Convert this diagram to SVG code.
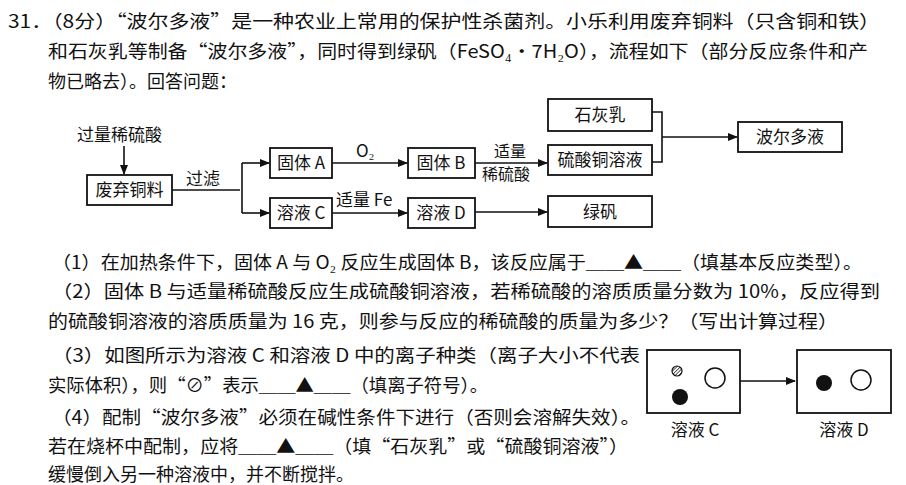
<svg xmlns="http://www.w3.org/2000/svg" width="906" height="485" viewBox="0 0 906 485">
<defs>
<marker id="ar" markerWidth="10" markerHeight="8" refX="9" refY="4" orient="auto" markerUnits="userSpaceOnUse"><path d="M0,0 L10,4 L0,8 z" fill="#111"/></marker>
<pattern id="hatch" width="2.5" height="2.5" patternUnits="userSpaceOnUse" patternTransform="rotate(45)"><rect width="2.5" height="2.5" fill="#fff"/><line x1="0" y1="0" x2="0" y2="2.5" stroke="#111" stroke-width="1.4"/></pattern>
</defs>
<style>
text{font-family:"Noto Sans CJK SC","Liberation Serif",sans-serif;fill:#111}
.q{font-size:18px}
.n{font-size:17px}
.s{font-size:16px}
.b{fill:#fff;stroke:#111;stroke-width:1.8}
.c{fill:none;stroke:#111;stroke-width:1.6}
</style>
<rect width="906" height="485" fill="#fff"/>
<g id="text">
<text class="q" x="8" y="28" textLength="872" lengthAdjust="spacingAndGlyphs">31．（8分）“波尔多液”是一种农业上常用的保护性杀菌剂。小乐利用废弃铜料（只含铜和铁）</text>
<text class="q" x="48" y="58" textLength="820" lengthAdjust="spacingAndGlyphs">和石灰乳等制备“波尔多液”，同时得到绿矾（FeSO₄•7H₂O），流程如下（部分反应条件和产</text>
<text class="q" x="48" y="88">物已略去）。回答问题：</text>
<text class="q" x="52" y="269" textLength="810" lengthAdjust="spacingAndGlyphs">（1）在加热条件下，固体 A 与 O₂ 反应生成固体 B，该反应属于＿＿▲＿＿（填基本反应类型）。</text>
<text class="q" x="52" y="298" textLength="828" lengthAdjust="spacingAndGlyphs">（2）固体 B 与适量稀硫酸反应生成硫酸铜溶液，若稀硫酸的溶质质量分数为 10%，反应得到</text>
<text class="q" x="48" y="328" textLength="790" lengthAdjust="spacingAndGlyphs">的硫酸铜溶液的溶质质量为 16 克，则参与反应的稀硫酸的质量为多少？（写出计算过程）</text>
<text class="q" x="52" y="362" textLength="588" lengthAdjust="spacingAndGlyphs">（3）如图所示为溶液 C 和溶液 D 中的离子种类（离子大小不代表</text>
<text class="q" x="48" y="392" textLength="440" lengthAdjust="spacingAndGlyphs">实际体积），则“⊘”表示＿＿▲＿＿（填离子符号）。</text>
<text class="q" x="52" y="424" textLength="588" lengthAdjust="spacingAndGlyphs">（4）配制“波尔多液”必须在碱性条件下进行（否则会溶解失效）。</text>
<text class="q" x="48" y="453" textLength="580" lengthAdjust="spacingAndGlyphs">若在烧杯中配制，应将＿＿▲＿＿（填“石灰乳”或“硫酸铜溶液”）</text>
<text class="q" x="48" y="481">缓慢倒入另一种溶液中，并不断搅拌。</text>
</g>
<g id="connectors">
<path class="c" d="M124,146 V174" marker-end="url(#ar)"/>
<path class="c" d="M172,190 H240"/>
<path class="c" d="M242,163 V213"/>
<path class="c" d="M242,163 H269" marker-end="url(#ar)"/>
<path class="c" d="M242,213 H269" marker-end="url(#ar)"/>
<path class="c" d="M332,163 H407" marker-end="url(#ar)"/>
<path class="c" d="M332,213 H407" marker-end="url(#ar)"/>
<path class="c" d="M475,163 H547" marker-end="url(#ar)"/>
<path class="c" d="M475,212 H547" marker-end="url(#ar)"/>
<path class="c" d="M652,112 H662 V162 H652"/>
<path class="c" d="M662,137 H737" marker-end="url(#ar)"/>
<path class="c" d="M740,381 H795" marker-end="url(#ar)"/>
<text class="n" x="77" y="141">过量稀硫酸</text>
<text class="n" x="186" y="185">过滤</text>
<text class="n" x="356" y="157">O₂</text>
<text class="n" x="336" y="206">适量 Fe</text>
<text class="s" x="494" y="157">适量</text>
<text class="s" x="482" y="180">稀硫酸</text>
</g>
<g id="n1"><rect class="b" x="87" y="175" width="85" height="30"/><text class="n" x="129.5" y="196" text-anchor="middle">废弃铜料</text></g>
<g id="n2"><rect class="b" x="270" y="148" width="62" height="30"/><text class="n" x="301" y="169" text-anchor="middle">固体 A</text></g>
<g id="n3"><rect class="b" x="270" y="198" width="62" height="30"/><text class="n" x="301" y="219" text-anchor="middle">溶液 C</text></g>
<g id="n4"><rect class="b" x="408" y="148" width="67" height="30"/><text class="n" x="441" y="169" text-anchor="middle">固体 B</text></g>
<g id="n5"><rect class="b" x="408" y="198" width="67" height="30"/><text class="n" x="441" y="219" text-anchor="middle">溶液 D</text></g>
<g id="n6"><rect class="b" x="548" y="99" width="104" height="32"/><text class="n" x="600" y="121" text-anchor="middle">石灰乳</text></g>
<g id="n7"><rect class="b" x="548" y="145" width="104" height="30"/><text class="n" x="600" y="166" text-anchor="middle">硫酸铜溶液</text></g>
<g id="n8"><rect class="b" x="548" y="196" width="104" height="31"/><text class="n" x="600" y="218" text-anchor="middle">绿矾</text></g>
<g id="n9"><rect class="b" x="738" y="122" width="104" height="30"/><text class="n" x="790" y="143" text-anchor="middle">波尔多液</text></g>
<g id="solC"><rect class="b" x="647" y="350" width="93" height="63"/>
<circle cx="677" cy="371" r="5" fill="url(#hatch)" stroke="#111" stroke-width="1.2"/>
<circle cx="680" cy="397" r="8" fill="#111"/>
<circle cx="715" cy="378" r="10" fill="#fff" stroke="#111" stroke-width="1.5"/>
<text class="n" x="695" y="436" text-anchor="middle">溶液 C</text></g>
<g id="solD"><rect class="b" x="797" y="350" width="94" height="63"/>
<circle cx="824" cy="383" r="8" fill="#111"/>
<circle cx="861" cy="380" r="10" fill="#fff" stroke="#111" stroke-width="1.5"/>
<text class="n" x="844" y="436" text-anchor="middle">溶液 D</text></g>
</svg>
